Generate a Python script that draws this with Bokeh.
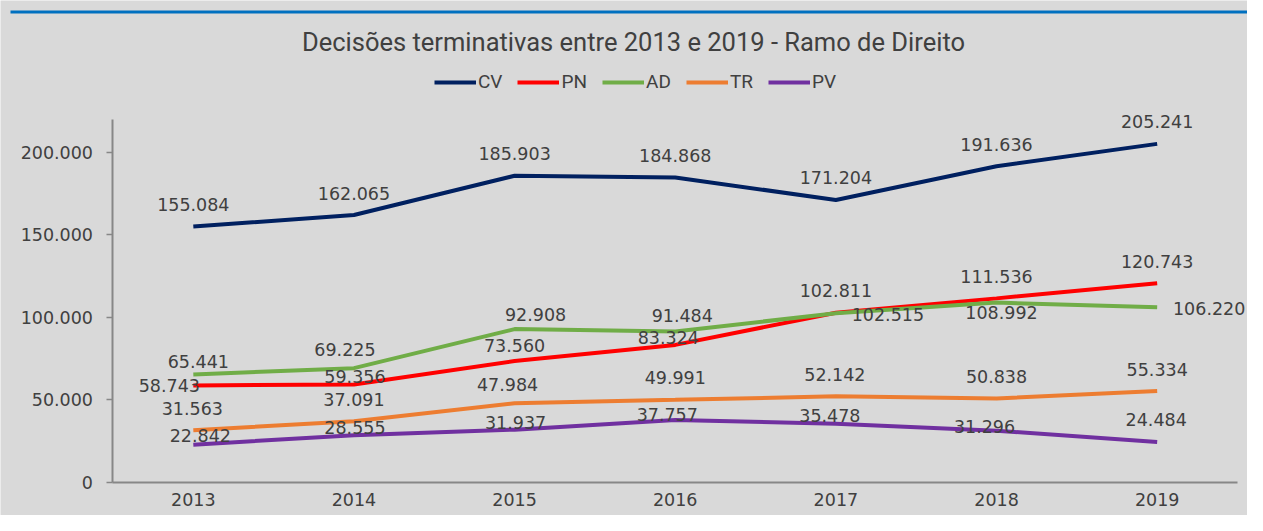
from bokeh.plotting import figure
from bokeh.models import (ColumnDataSource, LabelSet, Range1d,
                          FixedTicker, Label, BoxAnnotation)
from bokeh.core.properties import value
from bokeh.embed import file_html
from bokeh.resources import INLINE

# ---------------- data ----------------
years = ["2013", "2014", "2015", "2016", "2017", "2018", "2019"]
series_names = ["CV", "PN", "AD", "TR", "PV"]
cv = [155084, 162065, 185903, 184868, 171204, 191636, 205241]
pn = [58743, 59356, 73560, 83324, 102811, 111536, 120743]
ad = [65441, 69225, 92908, 91484, 102515, 108992, 106220]
tr = [31563, 37091, 47984, 49991, 52142, 50838, 55334]
pv = [22842, 28555, 31937, 37757, 35478, 31296, 24484]
y_ticks = [0, 50000, 100000, 150000, 200000]
y_tick_labels = ["0", "50.000", "100.000", "150.000", "200.000"]
title_text = "Decisões terminativas entre 2013 e 2019 - Ramo de Direito"

# ---------------- styles ----------------
colors = ["#002060", "#ff0000", "#70ad47", "#ed7d31", "#7030a0"]
# label offsets in screen pixels (dx right, dy up)
label_dx = [
    [0, 0, 0, 0, 0, 0, 0],
    [-24, 1, 0, -7, 0, 0, 0],
    [5, -9, 21, 7, 52, 5, 52],
    [-1, 0, -7, 0, -1, 0, 0],
    [7, 1, 1, -8, -6, -12, -1],
]
label_dy = [
    [22, 22, 22, 22, 22, 22, 22],
    [0, 8, 16, 7, 22, 22, 22],
    [13, 19, 15, 16, -1, -10, -1],
    [22, 22, 19, 22, 22, 22, 22],
    [9, 8, 7, 6, 8, 4, 22],
]
BG = "#d9d9d9"
TXT = "#404040"
AXIS = "#878787"
NUM_FONT = "DejaVu Sans"
W, H = 1247, 515

series_vals = [cv, pn, ad, tr, pv]
xpos = list(range(len(years)))          # category positions

p = figure(width=W, height=H,
           x_range=Range1d(-1.2003, 6.5623),
           y_range=Range1d(-20130, 292180),
           output_backend="svg", toolbar_location=None,
           background_fill_color=BG, border_fill_color=BG,
           outline_line_color=None,
           min_border_left=0, min_border_right=0,
           min_border_top=0, min_border_bottom=0)
p.grid.visible = False

for name, vals, col in zip(series_names, series_vals, colors):
    src = ColumnDataSource(dict(x=xpos, y=vals))
    p.line("x", "y", source=src, line_color=col, line_width=4,
           legend_label=name)

# data labels
lx, ly, lt, ldx, ldy = [], [], [], [], []
for vals, dxs, dys in zip(series_vals, label_dx, label_dy):
    for xi, v, dx, dy in zip(xpos, vals, dxs, dys):
        lx.append(xi)
        ly.append(v)
        lt.append(f"{v:,}".replace(",", "."))
        ldx.append(dx)
        ldy.append(dy)
lsrc = ColumnDataSource(dict(x=lx, y=ly, t=lt, dx=ldx, dy=ldy))
p.add_layout(LabelSet(x="x", y="y", text="t", source=lsrc,
                      x_offset="dx", y_offset="dy",
                      text_align="center", text_baseline="middle",
                      text_font=value(NUM_FONT), text_font_size="17.5px",
                      text_color=TXT))

# axes
xa = p.xaxis[0]
xa.fixed_location = 0
xa.bounds = (-0.5, len(years) - 0.5)
xa.ticker = FixedTicker(ticks=xpos)
xa.major_label_overrides = {i: y for i, y in zip(xpos, years)}
xa.axis_line_color = AXIS
xa.axis_line_width = 2
xa.major_tick_in = 0
xa.major_tick_out = 0
xa.minor_tick_line_color = None
xa.major_label_standoff = 11
xa.major_label_text_font = NUM_FONT
xa.major_label_text_font_size = "17.5px"
xa.major_label_text_color = TXT

ya = p.yaxis[0]
ya.fixed_location = -0.5
ya.bounds = (0, 220000)
ya.ticker = FixedTicker(ticks=y_ticks)
ya.major_label_overrides = {t: l for t, l in zip(y_ticks, y_tick_labels)}
ya.axis_line_color = AXIS
ya.axis_line_width = 2
ya.major_tick_line_color = AXIS
ya.major_tick_line_width = 1.5
ya.major_tick_in = 0
ya.major_tick_out = 6
ya.minor_tick_line_color = None
ya.major_label_standoff = 14
ya.major_label_text_font = NUM_FONT
ya.major_label_text_font_size = "17.5px"
ya.major_label_text_color = TXT

# legend
lg = p.legend[0]
lg.orientation = "horizontal"
lg.location = (434, 422)
lg.background_fill_alpha = 0
lg.border_line_alpha = 0
lg.padding = 0
lg.margin = 0
lg.spacing = 15
lg.glyph_width = 42
lg.glyph_height = 20
lg.label_standoff = 2
lg.label_text_font = "Roboto"
lg.label_text_font_size = "19px"
lg.label_text_color = TXT

# title
p.add_layout(Label(x=633, y=H - 41, x_units="screen", y_units="screen",
                   text=title_text, text_align="center", text_baseline="middle",
                   text_font="Roboto", text_font_size="25.5px", text_color=TXT))

# top blue rule
p.add_layout(BoxAnnotation(left=10, right=W, top=H - 10, bottom=H - 13,
                           left_units="screen", right_units="screen",
                           top_units="screen", bottom_units="screen",
                           fill_color="#0070c0", fill_alpha=1, line_color=None))

open("out.html", "w").write(file_html(p, INLINE))
